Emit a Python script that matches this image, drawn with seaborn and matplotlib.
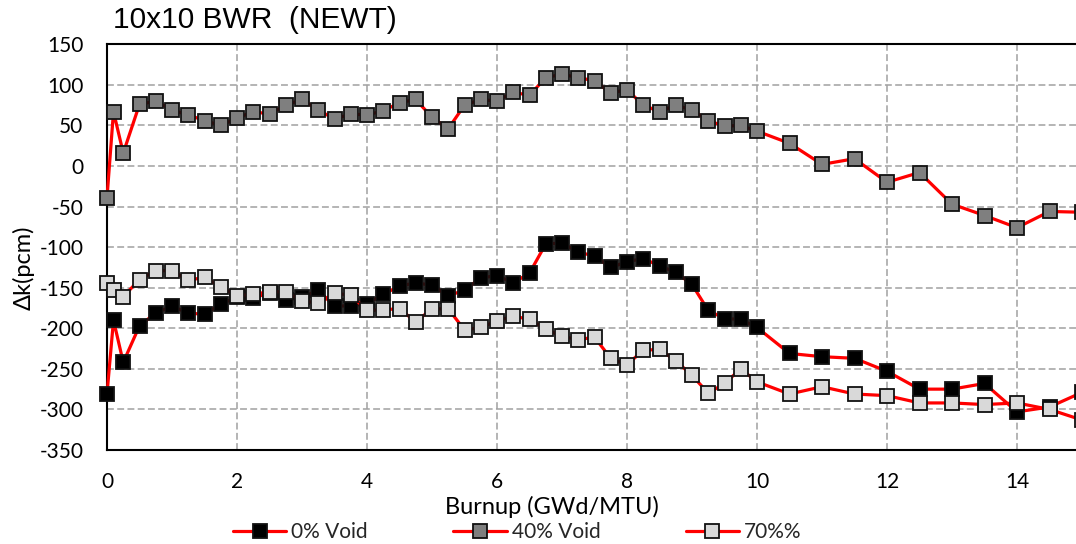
import matplotlib
matplotlib.use("Agg")
import matplotlib.pyplot as plt
import seaborn as sns
import pandas as pd

# Burnup steps (GWd/MTU)
burnup = [0, 0.1, 0.25, 0.5, 0.75, 1.0, 1.25, 1.5, 1.75, 2.0, 2.25, 2.5, 2.75,
          3.0, 3.25, 3.5, 3.75, 4.0, 4.25, 4.5, 4.75, 5.0, 5.25, 5.5, 5.75,
          6.0, 6.25, 6.5, 6.75, 7.0, 7.25, 7.5, 7.75, 8.0, 8.25, 8.5, 8.75,
          9.0, 9.25, 9.5, 9.75, 10.0, 10.5, 11.0, 11.5, 12.0, 12.5, 13.0,
          13.5, 14.0, 14.5, 15.0]

# Reactivity difference (pcm) per void fraction
dk_void0 = [-281, -190, -242, -197, -181, -173, -181, -183, -170, -162, -163,
            -156, -165, -162, -153, -173, -172, -170, -158, -148, -144, -147,
            -160, -153, -138, -135, -144, -132, -96, -95, -106, -111, -125,
            -118, -114, -123, -131, -146, -178, -188, -189, -199, -231, -235,
            -237, -253, -275, -275, -268, -303, -297, -279]
dk_void40 = [-39, 67, 16, 76, 80, 69, 63, 56, 50, 59, 67, 64, 75, 82, 69, 58,
             64, 63, 68, 78, 82, 60, 46, 75, 82, 80, 91, 87, 109, 113, 109,
             105, 90, 94, 75, 67, 75, 69, 56, 49, 50, 43, 28, 2, 9, -20, -8,
             -47, -61, -76, -56, -57]
dk_void70 = [-144, -153, -161, -140, -129, -129, -141, -137, -149, -160, -158,
             -155, -155, -166, -169, -157, -159, -178, -177, -176, -192, -176,
             -176, -202, -199, -191, -185, -189, -201, -210, -214, -211, -237,
             -245, -227, -226, -240, -258, -280, -268, -250, -266, -281, -272,
             -281, -283, -292, -292, -294, -292, -300, -313]

series_labels = ["0% Void", "40% Void", "70%%"]
face_colors = ["#000000", "#7F7F7F", "#D9D9D9"]

x_ticks = [0, 2, 4, 6, 8, 10, 12, 14]
y_ticks = [-350, -300, -250, -200, -150, -100, -50, 0, 50, 100, 150]

sns.set_theme(style="white")
plt.rcParams["font.family"] = ["Lato", "DejaVu Sans"]
plt.rcParams["axes.unicode_minus"] = False

W, H = 1076, 544
fig = plt.figure(figsize=(W / 100, H / 100), dpi=100)
ax = fig.add_axes([107 / W, 94 / H, 1040 / W, 405.7 / H])

frames = {
    series_labels[0]: dk_void0,
    series_labels[1]: dk_void40,
    series_labels[2]: dk_void70,
}
for (label, values), fc in zip(frames.items(), face_colors):
    df = pd.DataFrame({"burnup": burnup, "dk": values})
    sns.lineplot(data=df, x="burnup", y="dk", ax=ax, color="#FF0000",
                 linewidth=2.3, marker="s", markersize=10.5,
                 markerfacecolor=fc, markeredgecolor="#111111",
                 markeredgewidth=1.3, label=label, legend=False, zorder=5,
                 clip_on=False)

ax.set_xlim(0, 16)
ax.set_ylim(-350, 150)
ax.set_xticks(x_ticks)
ax.set_yticks(y_ticks)
ax.grid(True, color="#A0A0A0", linestyle=(0, (4.5, 2.2)), linewidth=1.1)
ax.set_axisbelow(True)
for side in ["left", "bottom", "top", "right"]:
    ax.spines[side].set_color("black")
    ax.spines[side].set_linewidth(1.5)
    ax.spines[side].set_zorder(4)

ax.tick_params(axis="both", length=0, labelsize=15, colors="black")
ax.tick_params(axis="y", pad=17)
ax.tick_params(axis="x", pad=16)

ax.set_xlabel("Burnup (GWd/MTU)", fontsize=17, color="black")
ax.xaxis.set_label_coords((552 - 107) / 1040, (450 - 507) / 405.7)
ax.xaxis.label.set_va("center")
ax.set_ylabel("Δk(pcm)", fontsize=17, color="black")
ax.yaxis.set_label_coords((24 - 107) / 1040, (450 - 268) / 405.7)
ax.yaxis.label.set_va("center")

fig.text(113 / W, 1 - 20 / H, "10x10 BWR  (NEWT)", ha="left", va="center",
         fontsize=21.5, family=["Liberation Sans", "DejaVu Sans"], color="black")

handles, labels = ax.get_legend_handles_labels()
fig.legend(handles, labels, loc="center left",
           bbox_to_anchor=(233 / W, 1 - 532 / H), ncol=3, frameon=False,
           fontsize=15, handlelength=2.55, handletextpad=0.25,
           columnspacing=4.1, borderpad=0, borderaxespad=0)

fig.savefig("out.png", dpi=100, facecolor="white")
